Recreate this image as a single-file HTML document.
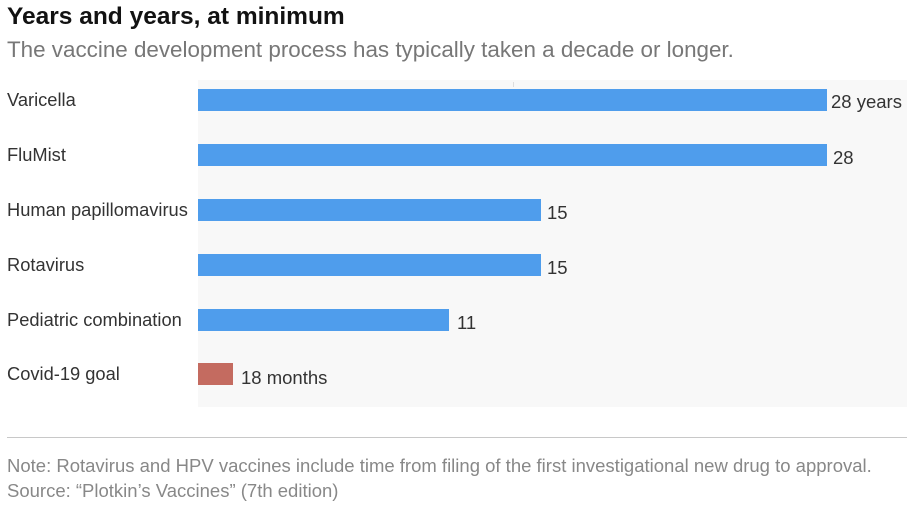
<!DOCTYPE html>
<html><head><style>
body{margin:0;width:915px;height:515px;background:#fff;font-family:"Liberation Sans",sans-serif;position:relative;overflow:hidden}
.a{position:absolute;white-space:nowrap}
.t{left:7px;top:3px;font-size:24.5px;font-weight:bold;color:#121212}
.s{left:7px;top:37px;font-size:22.4px;color:#777}
.l{left:7px;font-size:18.3px;color:#333}
.v{font-size:18.5px;color:#333}
.b{position:absolute;left:198px;height:22px;background:#4f9dec}
.n{left:7px;font-size:18.5px;color:#888}
</style></head><body>
<div class="a t">Years and years, at minimum</div>
<div class="a s">The vaccine development process has typically taken a decade or longer.</div>
<div class="a" style="left:198px;top:80px;width:709px;height:327px;background:#f8f8f8"></div>
<div class="a" style="left:513px;top:82px;width:1px;height:5px;background:#ddd"></div>
<div class="a l" style="top:89px">Varicella</div>
<div class="a l" style="top:144px">FluMist</div>
<div class="a l" style="top:199px">Human papillomavirus</div>
<div class="a l" style="top:254px">Rotavirus</div>
<div class="a l" style="top:309px">Pediatric combination</div>
<div class="a l" style="top:363px">Covid-19 goal</div>
<div class="b" style="top:89px;width:629px"></div>
<div class="b" style="top:144px;width:629px"></div>
<div class="b" style="top:199px;width:343px"></div>
<div class="b" style="top:254px;width:343px"></div>
<div class="b" style="top:309px;width:251px"></div>
<div class="b" style="top:363px;width:35px;background:#c46b60"></div>
<div class="a v" style="left:831px;top:91px">28 years</div>
<div class="a v" style="left:833px;top:147px">28</div>
<div class="a v" style="left:547px;top:202px">15</div>
<div class="a v" style="left:547px;top:257px">15</div>
<div class="a v" style="left:457px;top:312px">11</div>
<div class="a v" style="left:241px;top:367px">18 months</div>
<div class="a" style="left:7px;top:437px;width:900px;height:1px;background:#c8c8c8"></div>
<div class="a n" style="top:455px">Note: Rotavirus and HPV vaccines include time from filing of the first investigational new drug to approval.</div>
<div class="a n" style="top:480px">Source: “Plotkin’s Vaccines” (7th edition)</div>
</body></html>
